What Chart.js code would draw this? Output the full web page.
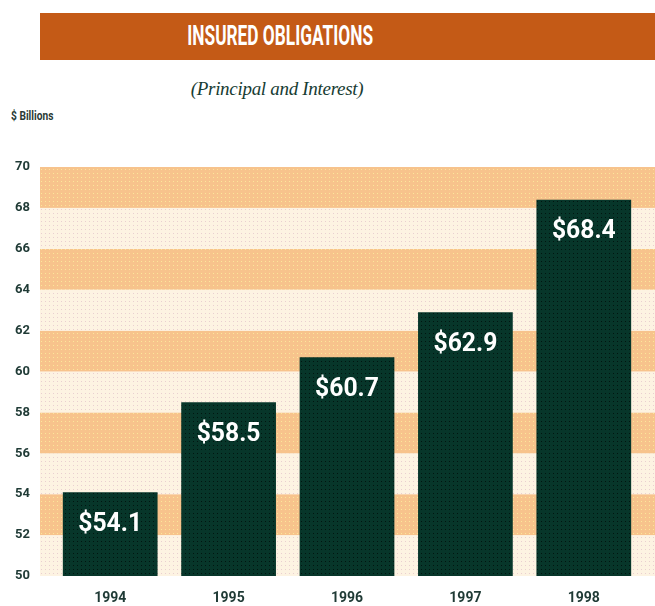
<!DOCTYPE html>
<html>
<head>
<meta charset="utf-8">
<script src="https://cdn.jsdelivr.net/npm/chart.js@4.4.1/dist/chart.umd.min.js"></script>
<style>
  body { margin: 0; background: #fff; }
  #wrap { position: relative; width: 655px; height: 606px; overflow: hidden; }
  #banner { position: absolute; left: 40px; top: 13px; width: 615px; height: 47px; background: #c45a16; }
  #title { position: absolute; left: 0; width: 560px; top: 13px; height: 47px; text-align: center;
           color: #fff; font: bold 27px Roboto, sans-serif; line-height: 47px; }
  #title span { display: inline-block; transform: scaleX(0.64); }
  #sub { position: absolute; left: 0; width: 554px; top: 78px; text-align: center;
         color: #173c33; font: italic 19px "Liberation Serif", serif; letter-spacing: -0.3px; }
  #unit { position: absolute; left: 11px; top: 109px; color: #2a3a36;
          font: bold 12px Roboto, sans-serif; transform: scaleX(0.85); transform-origin: left; }
  canvas { position: absolute; left: 0; top: 0; }
</style>
</head>
<body>
<div id="wrap">
  <div id="banner"></div>
  <div id="title"><span>INSURED OBLIGATIONS</span></div>
  <div id="sub">(Principal and Interest)</div>
  <div id="unit">$ Billions</div>
  <canvas id="chart" width="655" height="606"></canvas>
</div>
<script>
var years = ['1994', '1995', '1996', '1997', '1998'];
var obligations = [54.1, 58.5, 60.7, 62.9, 68.4];
var valueLabels = ['$54.1', '$58.5', '$60.7', '$62.9', '$68.4'];
var yMin = 50, yMax = 70, yStep = 2;

// little dotted tiles, like the halftone print
function dots(base, dot, size) {
    var c = document.createElement('canvas');
    c.width = size; c.height = size;
    var g = c.getContext('2d');
    g.fillStyle = base;
    g.fillRect(0, 0, size, size);
    g.fillStyle = dot;
    g.fillRect(1, 1, 1, 1);
    return g.createPattern(c, 'repeat');
}

var ctx = document.getElementById('chart').getContext('2d');
var orangeBand = dots('#f7c38c', '#fbe79a', 4);
var lightBand = dots('#fdf3e2', '#e9cfd0', 4);
var barFill = dots('#07362a', '#011510', 4);

// stripes behind the bars, every 2 units
var bands = {
    id: 'bands',
    beforeDatasetsDraw: function (chart) {
        var y = chart.scales.y, c = chart.ctx;
        for (var v = yMin; v < yMax; v += yStep) {
            var top = y.getPixelForValue(v + yStep);
            var bottom = y.getPixelForValue(v);
            c.fillStyle = ((v - yMin) / yStep) % 2 === 1 ? orangeBand : lightBand;
            c.fillRect(40, top, chart.width - 40, bottom - top);
        }
    }
};

var barLabels = {
    id: 'barLabels',
    afterDatasetsDraw: function (chart) {
        var c = chart.ctx;
        chart.getDatasetMeta(0).data.forEach(function (bar, i) {
            c.save();
            c.translate(bar.x, bar.y + 32);
            c.scale(0.95, 1);
            c.fillStyle = '#ffffff';
            c.font = 'bold 26px Roboto, sans-serif';
            c.textAlign = 'center';
            c.textBaseline = 'middle';
            c.fillText(valueLabels[i], 0, 0);
            c.restore();
        });
    }
};

var myChart = new Chart(ctx, {
    type: 'bar',
    data: {
        labels: years,
        datasets: [{
            data: obligations,
            backgroundColor: barFill,
            borderWidth: 0,
            categoryPercentage: 1,
            barPercentage: 0.8
        }]
    },
    options: {
        responsive: false,
        animation: false,
        layout: { padding: { top: 167, right: 12, left: 0, bottom: 0 } },
        plugins: { legend: { display: false }, tooltip: { enabled: false } },
        scales: {
            x: {
                grid: { display: false, drawTicks: false },
                border: { display: false },
                afterFit: function (s) { s.height = 30; },
                ticks: {
                    padding: 14,
                    color: '#1f3a35',
                    font: { family: 'Roboto, sans-serif', size: 14, weight: 'bold' }
                }
            },
            y: {
                min: yMin,
                max: yMax,
                grid: { display: false, drawTicks: false },
                border: { display: false },
                afterFit: function (s) { s.width = 51; },
                ticks: {
                    stepSize: yStep,
                    padding: 21,
                    color: '#1f3a35',
                    font: { family: 'Roboto, sans-serif', size: 13, weight: 'bold' }
                }
            }
        }
    },
    plugins: [bands, barLabels]
});
</script>
</body>
</html>
